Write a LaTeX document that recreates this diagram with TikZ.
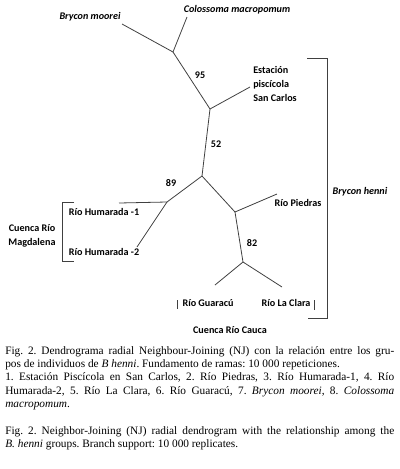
\documentclass[tikz,border=0pt]{standalone}
\usepackage{fontspec}
\setmainfont{Liberation Serif}
\newfontfamily\labfont{Carlito}
\begin{document}
\begin{tikzpicture}[x=0.75pt,y=-0.75pt,
  br/.style={draw=black!75, line width=0.6pt},
  brk/.style={draw=black!75, line width=0.6pt},
  lab/.style={font=\labfont\bfseries\fontsize{7.6}{10.5}\selectfont, inner sep=0pt},
  labi/.style={font=\labfont\bfseries\itshape\fontsize{7.6}{10.5}\selectfont, inner sep=0pt},
  boot/.style={font=\labfont\bfseries\fontsize{7.6}{9}\selectfont, inner sep=0pt},
  captext/.style={font=\fontsize{8.5}{10}\selectfont\frenchspacing, inner sep=0pt, anchor=north west,
    text width=291.75pt, align=justify}]
\useasboundingbox (0,0) rectangle (400,469);
% internal nodes and leaf ends
\coordinate (A) at (173,52);
\coordinate (moo) at (122,24);
\coordinate (col) at (187,17);
\coordinate (B) at (210,109);
\coordinate (est) at (250,87);
\coordinate (C) at (202,176);
\coordinate (D) at (167,202);
\coordinate (h1) at (119,203);
\coordinate (h2) at (137,247);
\coordinate (E) at (235,212);
\coordinate (pie) at (277,194);
\coordinate (F) at (243,262);
\coordinate (gua) at (215,285);
\coordinate (lac) at (282,287);
% branches
\draw[br] (A) -- (moo);
\draw[br] (A) -- (col);
\draw[br] (A) -- (B);
\draw[br] (B) -- (est);
\draw[br] (B) -- (C);
\draw[br] (C) -- (D);
\draw[br] (D) -- (h1);
\draw[br] (D) -- (h2);
\draw[br] (C) -- (E);
\draw[br] (E) -- (pie);
\draw[br] (E) -- (F);
\draw[br] (F) -- (gua);
\draw[br] (F) -- (lac);
% bootstrap values
\node[boot] (b95) at (200,75) {95};
\node[boot] (b52) at (216,144) {52};
\node[boot] (b89) at (171,183) {89};
\node[boot] (b82) at (252,243) {82};
% leaf labels
\node[labi] (lmoo) at (90,17) {Brycon moorei};
\node[labi] (lcol) at (237,10) {Colossoma macropomum};
\node[lab, anchor=west, align=left] (lest) at (253,84) {Estación\\piscícola\\San Carlos};
\node[lab] (lh1) at (104,212) {Río Humarada -1};
\node[lab] (lh2) at (104,252) {Río Humarada -2};
\node[lab] (lpie) at (298,203) {Río Piedras};
\node[lab] (lgua) at (208,303) {Río Guaracú};
\node[lab] (llac) at (286,303) {Río La Clara};
% groups
\node[lab, align=center] (mag) at (32,236) {Cuenca Río\\Magdalena};
\node[lab] (cau) at (230,330) {Cuenca Río Cauca};
\node[labi] (hen) at (360,192) {Brycon henni};
% brackets
\coordinate (m1) at (74,202); \coordinate (m2) at (62,202);
\coordinate (m3) at (62,261); \coordinate (m4) at (74,261);
\draw[brk] (m1) -- (m2) -- (m3) -- (m4);
\coordinate (r1) at (307,58); \coordinate (r2) at (327,58);
\coordinate (r3) at (327,318); \coordinate (r4) at (308,318);
\draw[brk] (r1) -- (r2) -- (r3) -- (r4);
\coordinate (c1) at (177,300); \coordinate (c2) at (177,309);
\coordinate (c3) at (314,300); \coordinate (c4) at (314,310);
\draw[brk] (c1) -- (c2);
\draw[brk] (c3) -- (c4);
% caption
\node[captext] (caption) at (5,346) {Fig. 2. Dendrograma radial Neighbour-Joining (NJ) con la relación entre los gru-\linebreak pos de individuos de \textit{B henni}. Fundamento de ramas: 10~000 repeticiones.\\
1. Estación Piscícola en San Carlos, 2. Río Piedras, 3. Río Humarada-1, 4. Río\linebreak Humarada-2, 5. Río La Clara, 6. Río Guaracú, 7. \textit{Brycon moorei}, 8. \textit{Colossoma}\linebreak \textit{macropomum}.\par\vspace{10pt}
Fig. 2. Neighbor-Joining (NJ) radial dendrogram with the relationship among the\linebreak \textit{B. henni} groups. Branch support: 10~000 replicates.};
\end{tikzpicture}
\end{document}
